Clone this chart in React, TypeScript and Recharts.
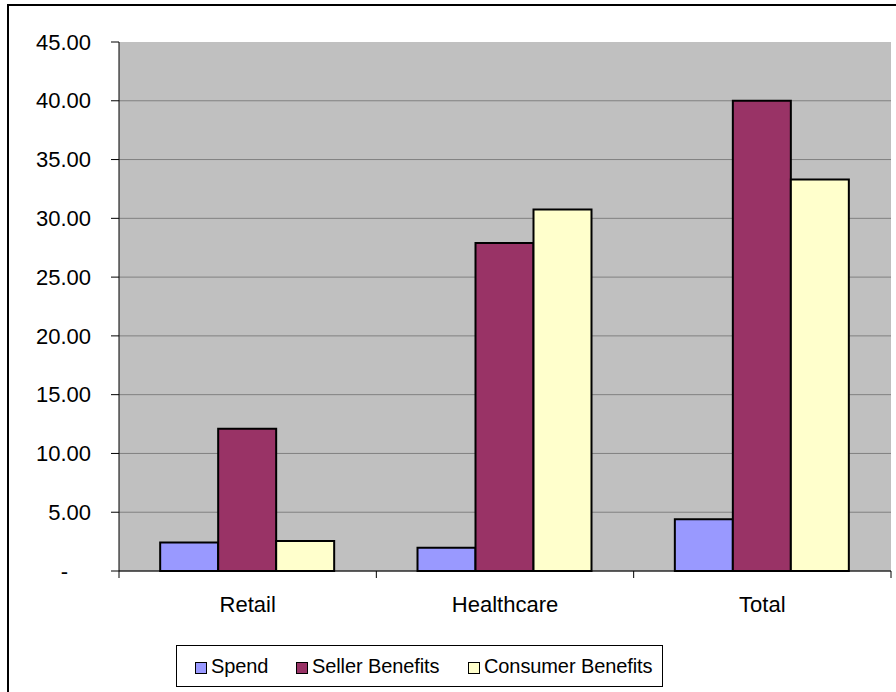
import React from 'react';
import { BarChart, Bar, XAxis, YAxis, CartesianGrid, Legend } from 'recharts';

const categories = ['Retail', 'Healthcare', 'Total'];
const spend = [2.42, 1.98, 4.4];
const sellerBenefits = [12.1, 27.9, 40.0];
const consumerBenefits = [2.55, 30.75, 33.3];
const yTicks = [0, 5, 10, 15, 20, 25, 30, 35, 40, 45];

const seriesNames = ['Spend', 'Seller Benefits', 'Consumer Benefits'];
const seriesColors = ['#9999FF', '#993366', '#FFFFCC'];

const data = categories.map((c, i) => ({
  name: c,
  spend: spend[i],
  seller: sellerBenefits[i],
  consumer: consumerBenefits[i],
}));

const FONT = '"Liberation Sans", Arial, sans-serif';

const YTick = (props: any) => {
  const { x, y, payload } = props;
  const v = payload.value as number;
  const label = v === 0 ? '-' : v.toFixed(2);
  return (
    <text
      x={v === 0 ? x - 23 : x}
      y={y}
      dy="0.35em"
      textAnchor="end"
      fontSize={22}
      fill="#000"
      fontFamily={FONT}
    >
      {label}
    </text>
  );
};

const XTick = (props: any) => {
  const { x, y, payload, index } = props;
  const off = payload.offset ?? 0;
  return (
    <g>
      <line x1={x - off} x2={x - off} y1={y} y2={y + 7} stroke="#000" strokeWidth={1} />
      {index === categories.length - 1 && (
        <line x1={x + off} x2={x + off} y1={y} y2={y + 7} stroke="#000" strokeWidth={1} />
      )}
      <text x={x} y={y + 41} textAnchor="middle" fontSize={22} fill="#000" fontFamily={FONT}>
        {payload.value}
      </text>
    </g>
  );
};

const itemLeft = [19, 120, 292];

const LegendContent = () => (
  <div
    style={{
      position: 'relative',
      boxSizing: 'border-box',
      width: 487,
      height: 42,
      border: '1px solid #000',
      background: '#fff',
      fontFamily: FONT,
      fontSize: 20,
      color: '#000',
      whiteSpace: 'nowrap',
    }}
  >
    {seriesNames.map((n, i) => (
      <span
        key={n}
        style={{
          position: 'absolute',
          left: itemLeft[i] - 1,
          top: 0,
          height: 40,
          display: 'flex',
          alignItems: 'center',
        }}
      >
        <span
          style={{
            display: 'inline-block',
            boxSizing: 'border-box',
            width: 12,
            height: 12,
            border: '1px solid #000',
            background: seriesColors[i],
            marginRight: 4,
            marginTop: 3,
          }}
        />
        <span style={{ letterSpacing: -0.1 }}>{n}</span>
      </span>
    ))}
  </div>
);

const horizontalLine = (props: any) => {
  const { x1, x2, y1, y2, y } = props;
  if (Math.abs(y1 - y) < 1) return <g key={props.key} />;
  return <line key={props.key} x1={x1} x2={x2} y1={y1} y2={y2} stroke="#808080" strokeWidth={1} />;
};

export default function App() {
  return (
    <div
      style={{
        position: 'fixed',
        left: 0,
        top: 0,
        width: 896,
        height: 692,
        overflow: 'hidden',
        background: '#fff',
      }}
    >
      <div
        style={{
          position: 'absolute',
          left: 7,
          top: 4,
          width: 1000,
          height: 1000,
          border: '2px solid #000',
          boxSizing: 'border-box',
        }}
      />
      <div style={{ position: 'absolute', left: 0, top: 0 }}>
        <BarChart
          width={896}
          height={692}
          data={data}
          margin={{ top: 42, right: 5, left: 0, bottom: 19 }}
          barCategoryGap="16%"
          barGap={0}
        >
          <CartesianGrid
            vertical={false}
            fill="#C0C0C0"
            fillOpacity={1}
            horizontal={horizontalLine}
          />
          <XAxis
            dataKey="name"
            height={60}
            tickLine={false}
            tickSize={0}
            tickMargin={0}
            axisLine={{ stroke: '#000', strokeWidth: 1 }}
            tick={<XTick />}
            interval={0}
          />
          <YAxis
            width={119}
            domain={[0, 45]}
            ticks={yTicks}
            interval={0}
            tickSize={8}
            tickMargin={20}
            tickLine={{ stroke: '#000', strokeWidth: 1 }}
            axisLine={{ stroke: '#000', strokeWidth: 1 }}
            tick={<YTick />}
          />
          <Legend
            verticalAlign="bottom"
            content={<LegendContent />}
            wrapperStyle={{ left: 176, top: 645, width: 487, height: 42, bottom: 'auto' }}
          />
          <Bar dataKey="spend" name="Spend" fill={seriesColors[0]} stroke="#000" strokeWidth={2} isAnimationActive={false} />
          <Bar dataKey="seller" name="Seller Benefits" fill={seriesColors[1]} stroke="#000" strokeWidth={2} isAnimationActive={false} />
          <Bar dataKey="consumer" name="Consumer Benefits" fill={seriesColors[2]} stroke="#000" strokeWidth={2} isAnimationActive={false} />
        </BarChart>
      </div>
    </div>
  );
}
